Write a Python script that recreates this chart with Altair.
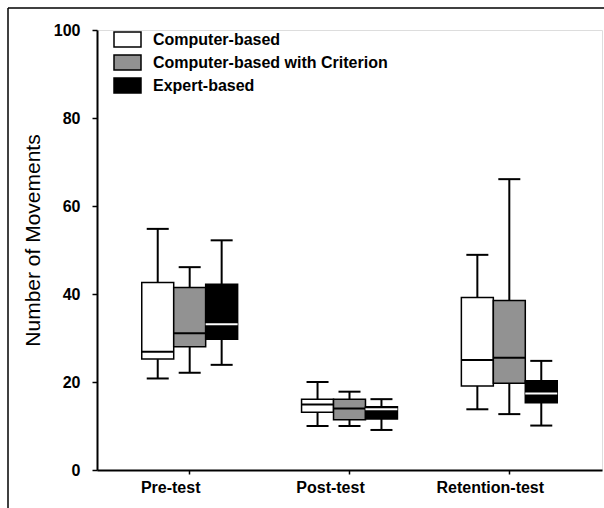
import altair as alt
import pandas as pd

tests = ["Pre-test", "Post-test", "Retention-test"]
groups = ["Computer-based", "Computer-based with Criterion", "Expert-based"]

# values in order: for each test, the three groups
whisker_low = [20.8, 22.1, 23.9, 10.0, 10.0, 9.1, 13.8, 12.7, 10.1]
q1 = [25.2, 28.0, 29.7, 13.1, 11.4, 11.6, 19.1, 19.7, 15.3]
median = [26.9, 31.1, 33.1, 14.9, 14.0, 13.8, 25.0, 25.5, 17.4]
q3 = [42.6, 41.5, 42.2, 16.1, 16.1, 14.4, 39.2, 38.5, 20.3]
whisker_high = [54.8, 46.1, 52.2, 20.0, 17.8, 16.1, 48.9, 66.1, 24.8]
y_ticks = [0, 20, 40, 60, 80, 100]
fills = ["#ffffff", "#929292", "#000000"]

rows = []
i = 0
for t in tests:
    for g in groups:
        rows.append(dict(test=t, group=g, lo=whisker_low[i], q1=q1[i], med=median[i],
                         q3=q3[i], hi=whisker_high[i]))
        i += 1
df = pd.DataFrame(rows)

FONT = "Liberation Sans"

x_enc = alt.X("test:N", sort=tests,
              scale=alt.Scale(paddingInner=0.4, paddingOuter=0.28),
              axis=alt.Axis(title=None, labelAngle=0, labelFontSize=16, labelFontWeight="bold",
                            labelFont=FONT, labelColor="black", tickSize=4, tickWidth=1.5,
                            tickColor="black", domainColor="black", domainWidth=2,
                            labelPadding=5, labelOffset=-19))
xo_enc = alt.XOffset("group:N", sort=groups, scale=alt.Scale(paddingInner=0, paddingOuter=0))
y_scale = alt.Scale(domain=[0, 100], nice=False)

base = alt.Chart(df)

whisk_lo = base.mark_rule(color="black", strokeWidth=2).encode(
    x=x_enc, xOffset=xo_enc,
    y=alt.Y("lo:Q", scale=y_scale,
            axis=alt.Axis(values=y_ticks, title="Number of Movements", titleFontSize=21,
                          titleFontWeight="normal", titleFont=FONT, titleColor="black",
                          titleX=-64, titleY=210, titleAngle=270, titleAlign="center",
                          titleBaseline="middle",
                          labelFontSize=16, labelFontWeight="bold", labelFont=FONT,
                          labelColor="black", tickSize=5, tickWidth=1.5, tickColor="black",
                          domainColor="black", domainWidth=2, grid=False, labelPadding=12)),
    y2="q1:Q")
whisk_hi = base.mark_rule(color="black", strokeWidth=2).encode(
    x=x_enc, xOffset=xo_enc, y=alt.Y("q3:Q", scale=y_scale), y2="hi:Q")

box = base.mark_bar(stroke="black", strokeWidth=1.5).encode(
    x=x_enc, xOffset=xo_enc,
    y=alt.Y("q1:Q", scale=y_scale), y2="q3:Q",
    color=alt.Color("group:N", sort=groups, scale=alt.Scale(domain=groups, range=fills),
                    legend=alt.Legend(title=None, orient="none", legendX=16, legendY=-2,
                                      padding=0, symbolType="M-1,-0.56H1V0.56H-1Z",
                                      symbolSize=729, symbolStrokeColor="black",
                                      symbolStrokeWidth=1.5, symbolOpacity=1,
                                      clipHeight=23, rowPadding=0, labelOffset=11,
                                      labelFontSize=16, labelFontWeight="bold",
                                      labelFont=FONT, labelColor="black", labelLimit=400)))

med = base.mark_tick(size=32, thickness=2, opacity=1).encode(
    x=x_enc, xOffset=xo_enc, y=alt.Y("med:Q", scale=y_scale),
    color=alt.condition("datum.group === 'Expert-based'", alt.value("white"), alt.value("black")))

cap_lo = base.mark_tick(size=22, thickness=2, color="black", opacity=1).encode(
    x=x_enc, xOffset=xo_enc, y=alt.Y("lo:Q", scale=y_scale))
cap_hi = base.mark_tick(size=22, thickness=2, color="black", opacity=1).encode(
    x=x_enc, xOffset=xo_enc, y=alt.Y("hi:Q", scale=y_scale))

frame_df = pd.DataFrame({"k": [0]})
frame_left = alt.Chart(frame_df).mark_rule(color="black", strokeWidth=1.5).encode(
    x=alt.value(-89), y=alt.value(-22), y2=alt.value(480))
frame_top = alt.Chart(frame_df).mark_rule(color="black", strokeWidth=1.5).encode(
    x=alt.value(-89), x2=alt.value(510), y=alt.value(-22))

chart = alt.layer(whisk_lo, whisk_hi, box, med, cap_lo, cap_hi, frame_left, frame_top).properties(
    width=505, height=440,
    autosize=alt.AutoSizeParams(type="none"),
    padding={"left": 97, "top": 30, "right": 2, "bottom": 38},
).configure_view(stroke=None).configure(background="white")

chart.save("out.html", embed_options={"renderer": "svg", "actions": False})
